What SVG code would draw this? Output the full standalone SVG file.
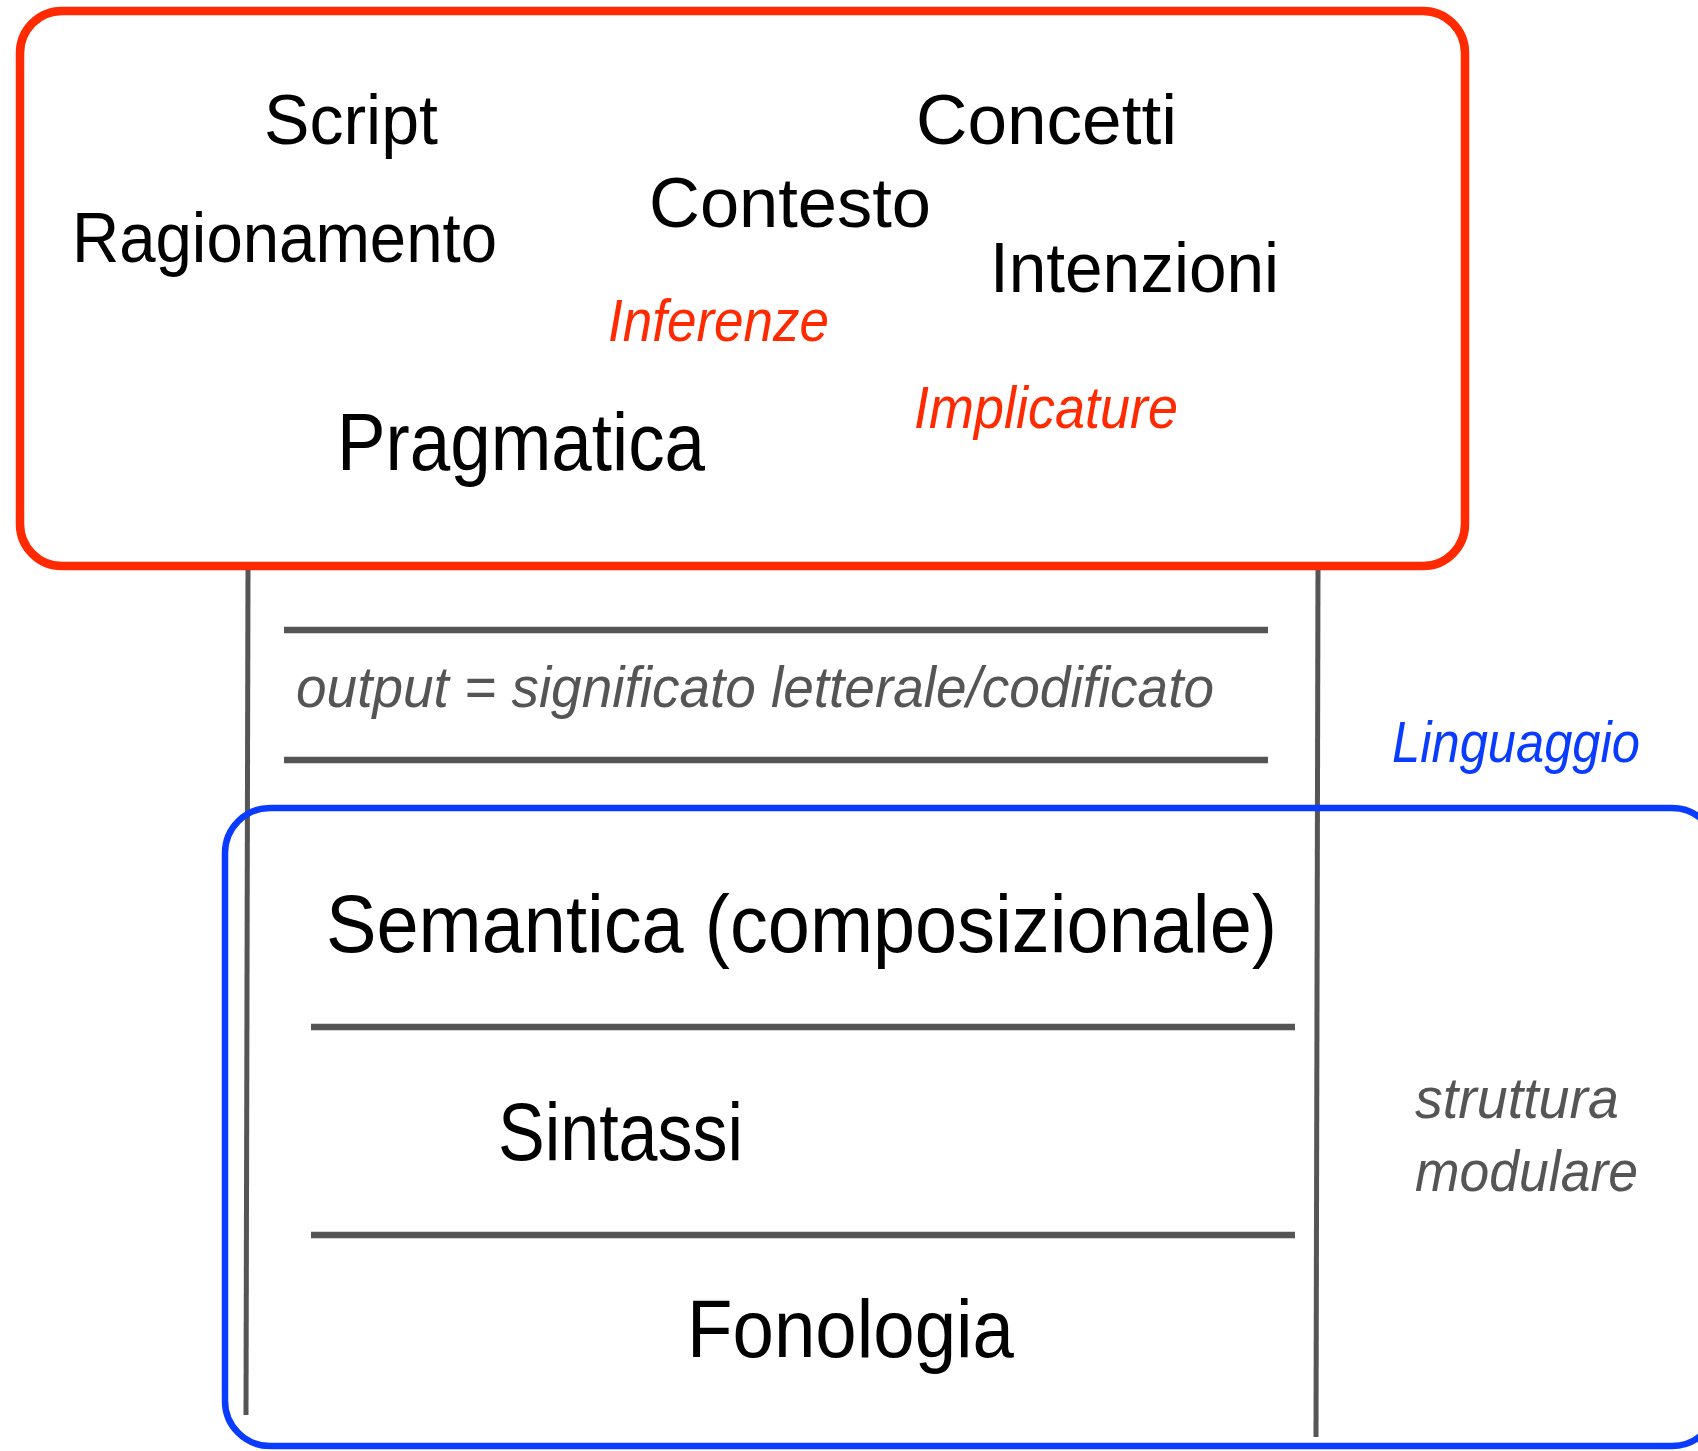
<svg xmlns="http://www.w3.org/2000/svg" width="1698" height="1451" viewBox="0 0 1698 1451">
<style>
.t{font-family:"Liberation Sans",Arial,sans-serif;fill:#000}
.big{font-size:70px}
.huge{font-size:81px}
.red{font-family:"Liberation Sans",Arial,sans-serif;font-style:italic;fill:#ff2a00;font-size:60px}
.gray{font-family:"Liberation Sans",Arial,sans-serif;font-style:italic;fill:#555;font-size:58px}
.blue{font-family:"Liberation Sans",Arial,sans-serif;font-style:italic;fill:#0a3cff;font-size:58px}
.rule{stroke:#555;stroke-width:6.5;fill:none}
.axis{stroke:#555;stroke-width:5;fill:none}
</style>
<rect width="1698" height="1451" fill="#fff"/>
<g id="connectors">
<line class="axis" x1="248" y1="566" x2="246" y2="1415"/>
<line class="axis" x1="1318" y1="566" x2="1316" y2="1437"/>
<line class="rule" x1="284" y1="630" x2="1268" y2="630"/>
<line class="rule" x1="284" y1="760" x2="1268" y2="760"/>
<line class="rule" x1="311" y1="1027" x2="1295" y2="1027"/>
<line class="rule" x1="311" y1="1235" x2="1295" y2="1235"/>
</g>
<g id="pragmatica-box">
<rect x="20" y="11" width="1445" height="555" rx="42" ry="42" fill="none" stroke="#ff2a00" stroke-width="8.5"/>
<text class="t big" x="264" y="144" textLength="174" lengthAdjust="spacingAndGlyphs">Script</text>
<text class="t big" x="916" y="144" textLength="261" lengthAdjust="spacingAndGlyphs">Concetti</text>
<text class="t big" x="649" y="227" textLength="282" lengthAdjust="spacingAndGlyphs">Contesto</text>
<text class="t big" x="72" y="262" textLength="425" lengthAdjust="spacingAndGlyphs">Ragionamento</text>
<text class="t big" x="990" y="292" textLength="289" lengthAdjust="spacingAndGlyphs">Intenzioni</text>
<text class="red" x="608" y="341" textLength="221" lengthAdjust="spacingAndGlyphs">Inferenze</text>
<text class="red" x="914" y="428" textLength="264" lengthAdjust="spacingAndGlyphs">Implicature</text>
<text class="t huge" x="337" y="470" textLength="368" lengthAdjust="spacingAndGlyphs">Pragmatica</text>
</g>
<g id="output">
<text class="gray" x="296" y="707" textLength="918" lengthAdjust="spacingAndGlyphs">output = significato letterale/codificato</text>
</g>
<g id="linguaggio-box">
<rect x="225" y="808" width="1492" height="638" rx="45" ry="45" fill="none" stroke="#0a3cff" stroke-width="6.5"/>
<text class="blue" x="1392" y="762" textLength="248" lengthAdjust="spacingAndGlyphs">Linguaggio</text>
</g>
<g id="semantica">
<text class="t huge" x="326" y="952" textLength="951" lengthAdjust="spacingAndGlyphs">Semantica (composizionale)</text>
</g>
<g id="sintassi">
<text class="t huge" x="498" y="1160" textLength="245" lengthAdjust="spacingAndGlyphs">Sintassi</text>
</g>
<g id="fonologia">
<text class="t huge" x="687" y="1357" textLength="327" lengthAdjust="spacingAndGlyphs">Fonologia</text>
</g>
<g id="struttura">
<text class="gray" x="1415" y="1118" font-size="56" textLength="204" lengthAdjust="spacingAndGlyphs">struttura</text>
<text class="gray" x="1415" y="1191" font-size="56" textLength="223" lengthAdjust="spacingAndGlyphs">modulare</text>
</g>
</svg>
